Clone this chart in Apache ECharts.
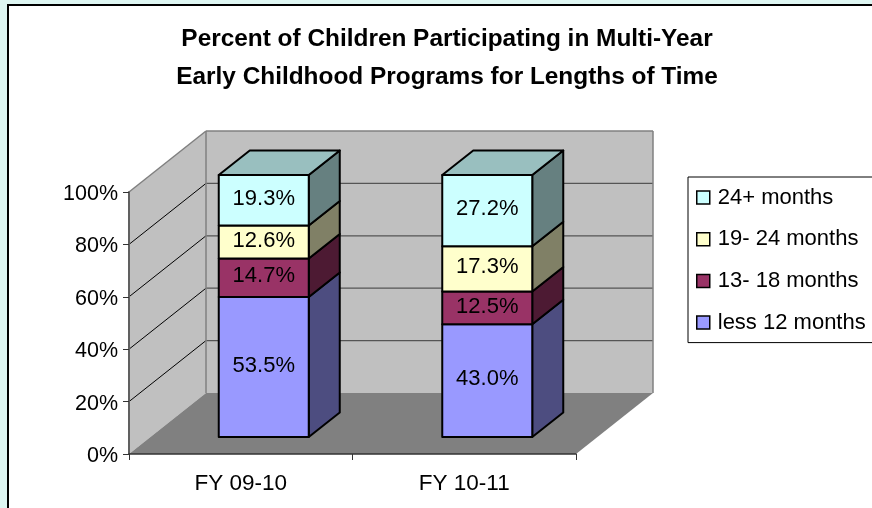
<!DOCTYPE html>
<html><head><meta charset="utf-8">
<style>html,body{margin:0;padding:0;background:#DEF6F2}#c{width:872px;height:508px}</style>
<script src="https://cdn.jsdelivr.net/npm/echarts@6/dist/echarts.min.js"></script>
</head><body><div id="c"></div>
<script>
const categories = ['FY 09-10', 'FY 10-11'];
const seriesNames = ['less 12 months', '13- 18 months', '19- 24 months', '24+ months'];
const less12 = [53.5, 43.0];
const m13to18 = [14.7, 12.5];
const m19to24 = [12.6, 17.3];
const m24plus = [19.3, 27.2];
const frontColors = ['#9999FF', '#993366', '#FFFFCC', '#CCFFFF'];
const sideColors = ['#4D4D80', '#4D1A33', '#808066', '#668080'];
const topColor = '#99BFBF';
const yTicks = [0, 20, 40, 60, 80, 100];
const allValues = [less12, m13to18, m19to24, m24plus];

const FONT = 'Liberation Sans, Arial, sans-serif';
const WALL = { dx: 77, dy: -61 };
const BAR = { dx: 23, dy: -17, sideDx: 31, sideDy: -24.5, width: 90 };

function poly(points, fill, stroke, lw) {
  return { type: 'polygon', shape: { points }, style: { fill, stroke: stroke || null, lineWidth: lw || 0, lineJoin: 'round' } };
}
function line(a, b, stroke, lw) {
  return { type: 'line', shape: { x1: a[0], y1: a[1], x2: b[0], y2: b[1] }, style: { stroke, lineWidth: lw } };
}
function renderWalls(params, api) {
  const g = params.coordSys;
  const L = g.x, R = g.x + g.width, B = g.y + g.height, T = g.y;
  const d = WALL;
  const kids = [
    poly([[L + d.dx, T + d.dy], [R + d.dx, T + d.dy], [R + d.dx, B + d.dy], [L + d.dx, B + d.dy]], '#C0C0C0'),
    poly([[L, T], [L + d.dx, T + d.dy], [L + d.dx, B + d.dy], [L, B]], '#C0C0C0'),
    poly([[L, B], [L + d.dx, B + d.dy], [R + d.dx, B + d.dy], [R, B]], '#808080')
  ];
  yTicks.forEach(function (t) {
    const y = api.coord([0, t])[1];
    if (t > 0 && t < 100) {
      kids.push(line([L, y], [L + d.dx, y + d.dy], '#000', 1));
      kids.push(line([L + d.dx, y + d.dy], [R + d.dx, y + d.dy], '#555', 1.3));
    }
  });
  kids.push(line([L, T], [L + d.dx, T + d.dy], '#808080', 1.5));
  kids.push(line([L + d.dx, T + d.dy], [R + d.dx, T + d.dy], '#808080', 1.5));
  kids.push(line([L + d.dx, T + d.dy], [L + d.dx, B + d.dy], '#808080', 1.5));
  kids.push(line([R + d.dx, T + d.dy], [R + d.dx, B + d.dy], '#808080', 1.5));
  return { type: 'group', children: kids };
}
function renderBar(si) {
  return function (params, api) {
    const i = api.value(0);
    let lower = 0, total = 0;
    allValues.forEach(function (v, k) { total += v[i]; if (k < si) lower += v[i]; });
    const value = allValues[si][i];
    const p0 = api.coord([i, lower / total * 100]);
    const p1 = api.coord([i, (lower + value) / total * 100]);
    const x0 = p0[0] - BAR.width / 2 + BAR.dx, x1 = x0 + BAR.width;
    const yb = p0[1] + BAR.dy, yt = p1[1] + BAR.dy;
    const sx = BAR.sideDx, sy = BAR.sideDy;
    const kids = [
      poly([[x1, yb], [x1 + sx, yb + sy], [x1 + sx, yt + sy], [x1, yt]], sideColors[si], '#000', 2),
      poly([[x0, yb], [x1, yb], [x1, yt], [x0, yt]], frontColors[si], '#000', 2)
    ];
    if (si === allValues.length - 1) {
      kids.push(poly([[x0, yt], [x0 + sx, yt + sy], [x1 + sx, yt + sy], [x1, yt]], topColor, '#000', 2));
    }
    kids.push({
      type: 'text', z2: 10,
      style: { text: value.toFixed(1) + '%', x: (x0 + x1) / 2, y: (yb + yt) / 2 - 1.5, align: 'center', verticalAlign: 'middle',
        fill: '#000', font: '22px ' + FONT }
    });
    return { type: 'group', children: kids };
  };
}

const series = [{
  type: 'custom', name: 'walls', z: 1, silent: true, data: [[0]], renderItem: renderWalls, clip: false
}].concat(seriesNames.map(function (n, si) {
  return {
    type: 'custom', name: n, z: 5 + si, silent: true, clip: false,
    itemStyle: { color: frontColors[si] },
    data: categories.map(function (c, i) { return [i, allValues[si][i]]; }),
    encode: { x: 0, y: 1 },
    renderItem: renderBar(si)
  };
}));

const chart = echarts.init(document.getElementById('c'), null, { renderer: 'canvas' });
chart.setOption({
  animation: false,
  backgroundColor: '#DEF6F2',
  textStyle: { fontFamily: FONT, color: '#000' },
  graphic: [{ type: 'rect', z: -10, silent: true, shape: { x: 8, y: 5, width: 900, height: 540 }, style: { fill: '#fff', stroke: '#000', lineWidth: 2 } }],
  title: {
    text: 'Percent of Children Participating in Multi-Year\nEarly Childhood Programs for Lengths of Time',
    left: 442, top: 15, textAlign: 'center',
    textStyle: { fontFamily: FONT, fontSize: 24.4, fontWeight: 'bold', lineHeight: 38, color: '#000' }
  },
  legend: {
    orient: 'vertical', left: 688, top: 177, icon: 'rect', selectedMode: false,
    data: seriesNames.slice().reverse(),
    itemWidth: 13, itemHeight: 13, itemGap: 19.7,
    padding: [9.5, 60, 9, 8],
    backgroundColor: '#fff', borderColor: '#000', borderWidth: 1,
    itemStyle: { borderColor: '#000', borderWidth: 1.5 },
    textStyle: { fontFamily: FONT, fontSize: 22, color: '#000', padding: [0, 0, 0, 3] }
  },
  grid: { left: 129, top: 192, width: 447, height: 262, containLabel: false },
  xAxis: {
    type: 'category', data: categories, z: 3,
    axisLine: { lineStyle: { color: '#333', width: 1.5 } },
    axisTick: { show: true, length: 6, lineStyle: { color: '#333', width: 1 } },
    axisLabel: { fontFamily: FONT, fontSize: 22.5, color: '#000', margin: 18 }
  },
  yAxis: {
    type: 'value', min: 0, max: 100, interval: 20, z: 3,
    splitLine: { show: false },
    axisLine: { show: true, lineStyle: { color: '#606060', width: 2 } },
    axisTick: { show: true, length: 6, lineStyle: { color: '#333', width: 1 } },
    axisLabel: { fontFamily: FONT, fontSize: 21.5, color: '#000', margin: 11, formatter: '{v|{value}%}', rich: { v: { fontFamily: FONT, fontSize: 21.5, color: '#000', padding: [4, 0, 0, 0] } } }
  },
  series: series
});
</script></body></html>
